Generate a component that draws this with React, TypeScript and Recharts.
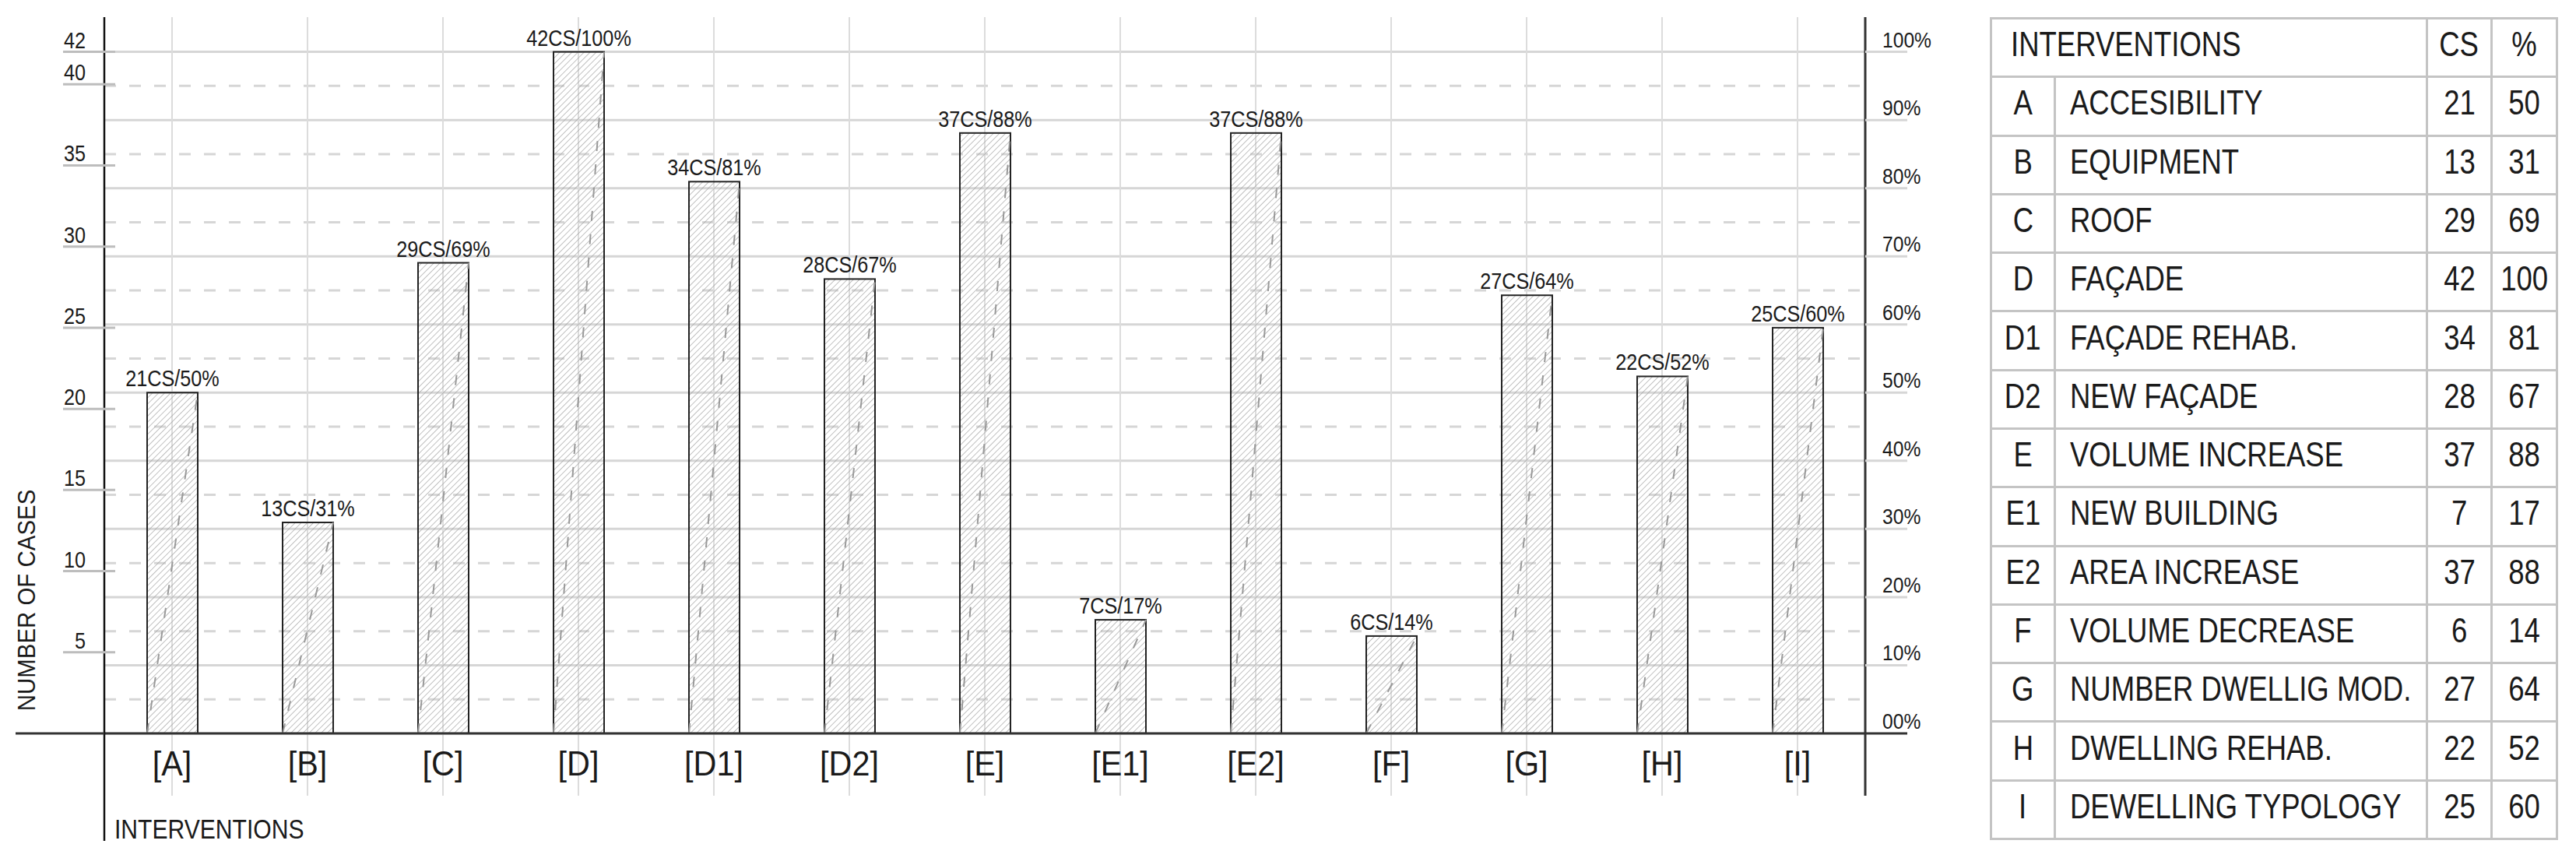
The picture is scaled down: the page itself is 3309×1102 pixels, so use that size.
import React from 'react';
import { ComposedChart, Bar, XAxis, YAxis, CartesianGrid, ReferenceLine, LabelList } from 'recharts';

const CODES = ['A', 'B', 'C', 'D', 'D1', 'D2', 'E', 'E1', 'E2', 'F', 'G', 'H', 'I'];
const NAMES = [
  'ACCESIBILITY',
  'EQUIPMENT',
  'ROOF',
  'FAÇADE',
  'FAÇADE REHAB.',
  'NEW FAÇADE',
  'VOLUME INCREASE',
  'NEW BUILDING',
  'AREA INCREASE',
  'VOLUME DECREASE',
  'NUMBER DWELLIG MOD.',
  'DWELLING REHAB.',
  'DEWELLING TYPOLOGY',
];
const CASES = [21, 13, 29, 42, 34, 28, 37, 7, 37, 6, 27, 22, 25];
const PERCENT = [50, 31, 69, 100, 81, 67, 88, 17, 88, 14, 64, 52, 60];

const CS_TICKS = [0, 5, 10, 15, 20, 25, 30, 35, 40, 42];
const PCT_TICKS = [0, 10, 20, 30, 40, 50, 60, 70, 80, 90, 100];
const PCT_HALF_TICKS = [5, 15, 25, 35, 45, 55, 65, 75, 85, 95];

const TOTAL_CASES = 42;
const CS_DOMAIN = [-3.84, 44.14];
const PCT_DOMAIN = CS_DOMAIN.map((v) => (v / TOTAL_CASES) * 100);

const FONT = "'Liberation Sans', Arial, sans-serif";
const INK = '#1a1a1a';
const GRID = '#d6d6d6';

const CHART_W = 2500;
const CHART_H = 1102;
const PLOT_LEFT = 134;
const PLOT_RIGHT = 2396;
const PLOT_TOP = 22;
const PLOT_BOTTOM = 1022;

const data = CODES.map((code, i) => ({
  code,
  cs: CASES[i],
  pct: PERCENT[i],
  label: `${CASES[i]}CS/${PERCENT[i]}%`,
}));

// narrow technical lettering: regular font squeezed horizontally
const Sq = ({ x, y, anchor, size, sx, rot, children }: any) => (
  <g transform={`translate(${x},${y})${rot ? ` rotate(${rot})` : ''} scale(${sx},1)`}>
    <text x={0} y={0} textAnchor={anchor} fontSize={size} fontFamily={FONT} fill={INK}>
      {children}
    </text>
  </g>
);

const CsTick = (props: any) => {
  const { y, payload } = props;
  if (payload.value === 0) {
    return <line x1={20} x2={PLOT_LEFT} y1={y} y2={y} stroke="#333" strokeWidth={3} />;
  }
  return (
    <g>
      <line x1={PLOT_LEFT - 53} x2={PLOT_LEFT + 14} y1={y} y2={y} stroke="#bdbdbd" strokeWidth={3} />
      <Sq x={PLOT_LEFT - 24} y={y - 5} anchor="end" size={29} sx={0.87}>
        {payload.value}
      </Sq>
    </g>
  );
};

const PctTick = (props: any) => {
  const { y, payload } = props;
  const v = payload.value;
  return (
    <g>
      <line x1={PLOT_RIGHT} x2={PLOT_RIGHT + 54} y1={y} y2={y} stroke={v === 0 ? '#333' : GRID} strokeWidth={3} />
      <Sq x={PLOT_RIGHT + 22} y={y - 6} anchor="start" size={28} sx={0.88}>
        {v === 0 ? '00%' : `${v}%`}
      </Sq>
    </g>
  );
};

const HalfTick = (props: any) => (
  <line x1={PLOT_RIGHT + 2} x2={PLOT_RIGHT + 14} y1={props.y} y2={props.y} stroke={GRID} strokeWidth={3} />
);

const CodeTick = (props: any) => (
  <Sq x={props.x} y={PLOT_BOTTOM - 26} anchor="middle" size={44} sx={0.94}>
    {`[${props.payload.value}]`}
  </Sq>
);

const CasesTitle = () => (
  <Sq x={45} y={771} anchor="middle" size={32} sx={0.92} rot={-90}>
    NUMBER OF CASES
  </Sq>
);

const AxisFoot = () => (
  <g>
    <line x1={PLOT_LEFT} x2={PLOT_LEFT} y1={PLOT_BOTTOM} y2={1080} stroke="#111" strokeWidth={2.5} />
    <Sq x={PLOT_LEFT + 13} y={PLOT_BOTTOM + 55} anchor="start" size={35} sx={0.86}>
      INTERVENTIONS
    </Sq>
  </g>
);

const HatchedBar = (props: any) => {
  const { x, y, width, height } = props;
  if (!height) return null;
  return (
    <g>
      <rect x={x} y={y} width={width} height={height} fill="url(#hatch)" stroke="#222" strokeWidth={2} />
      <line x1={x} y1={y + height} x2={x + width} y2={y} stroke="#999" strokeWidth={2} strokeDasharray="13 17" />
    </g>
  );
};

const BarTag = (props: any) => {
  const { x, y, width, value } = props;
  return (
    <Sq x={x + width / 2} y={y - 8} anchor="middle" size={29} sx={0.87}>
      {value}
    </Sq>
  );
};

const cell: React.CSSProperties = {
  border: '3px solid #c4c4c4',
  padding: 0,
  paddingBottom: 8,
  textAlign: 'center',
  verticalAlign: 'middle',
  lineHeight: '44px',
  whiteSpace: 'nowrap',
};

const Narrow = ({ origin, children }: any) => (
  <span style={{ display: 'inline-block', transform: 'scaleX(0.83)', transformOrigin: origin || 'center' }}>
    {children}
  </span>
);

const CasesTable = () => (
  <table
    style={{
      position: 'absolute',
      left: 2556,
      top: 22,
      width: 727,
      height: 1057,
      borderCollapse: 'collapse',
      tableLayout: 'fixed',
      fontFamily: FONT,
      fontSize: 44,
      color: INK,
    }}
  >
    <colgroup>
      <col style={{ width: 82 }} />
      <col style={{ width: 478 }} />
      <col style={{ width: 83 }} />
      <col style={{ width: 84 }} />
    </colgroup>
    <tbody>
      <tr>
        <td colSpan={2} style={{ ...cell, textAlign: 'left', paddingLeft: 24 }}>
          <Narrow origin="left center">INTERVENTIONS</Narrow>
        </td>
        <td style={cell}>
          <Narrow>CS</Narrow>
        </td>
        <td style={cell}>
          <Narrow>%</Narrow>
        </td>
      </tr>
      {CODES.map((code, i) => (
        <tr key={code}>
          <td style={cell}>
            <Narrow>{code}</Narrow>
          </td>
          <td style={{ ...cell, textAlign: 'left', paddingLeft: 18 }}>
            <Narrow origin="left center">{NAMES[i]}</Narrow>
          </td>
          <td style={cell}>
            <Narrow>{CASES[i]}</Narrow>
          </td>
          <td style={cell}>
            <Narrow>{PERCENT[i]}</Narrow>
          </td>
        </tr>
      ))}
    </tbody>
  </table>
);

export default function App() {
  return (
    <div style={{ position: 'absolute', left: 0, top: 0, width: 3309, height: 1102, background: '#fff' }}>
      <svg width={0} height={0} style={{ position: 'absolute' }}>
        <defs>
          <pattern id="hatch" width={5.5} height={5.5} patternUnits="userSpaceOnUse" patternTransform="rotate(45)">
            <line x1={0} y1={0} x2={0} y2={5.5} stroke="#a0a0a0" strokeWidth={1.3} />
          </pattern>
        </defs>
      </svg>
      <div style={{ position: 'absolute', left: 0, top: 0 }}>
        <ComposedChart
          width={CHART_W}
          height={CHART_H}
          data={data}
          margin={{ top: PLOT_TOP, right: 0, bottom: 0, left: 0 }}
        >
          <CartesianGrid yAxisId="pct" vertical={false} stroke={GRID} strokeWidth={3} syncWithTicks />
          <CartesianGrid
            yAxisId="pct5"
            vertical={false}
            stroke={GRID}
            strokeWidth={3}
            strokeDasharray="15 17"
            syncWithTicks
          />
          <CartesianGrid yAxisId="cs" horizontal={false} stroke="#dcdcdc" strokeWidth={2} syncWithTicks />
          <XAxis
            dataKey="code"
            height={CHART_H - PLOT_BOTTOM}
            axisLine={false}
            tickLine={false}
            interval={0}
            tick={<CodeTick />}
            label={<AxisFoot />}
          />
          <YAxis
            yAxisId="cs"
            width={PLOT_LEFT}
            type="number"
            domain={CS_DOMAIN}
            allowDataOverflow
            ticks={CS_TICKS}
            interval={0}
            axisLine={{ stroke: '#111', strokeWidth: 2.5 }}
            tickLine={false}
            tick={<CsTick />}
            label={<CasesTitle />}
          />
          <YAxis
            yAxisId="pct"
            orientation="right"
            width={CHART_W - PLOT_RIGHT}
            type="number"
            domain={PCT_DOMAIN}
            allowDataOverflow
            ticks={PCT_TICKS}
            interval={0}
            axisLine={{ stroke: '#333', strokeWidth: 3 }}
            tickLine={false}
            tick={<PctTick />}
          />
          <YAxis
            yAxisId="pct5"
            orientation="right"
            width={0}
            type="number"
            domain={PCT_DOMAIN}
            allowDataOverflow
            ticks={PCT_HALF_TICKS}
            interval={0}
            axisLine={false}
            tickLine={false}
            tick={<HalfTick />}
          />
          <Bar dataKey="cs" yAxisId="cs" barSize={65} shape={<HatchedBar />} isAnimationActive={false}>
            <LabelList dataKey="label" content={<BarTag />} />
          </Bar>
          <ReferenceLine yAxisId="cs" y={0} stroke="#333" strokeWidth={3} />
        </ComposedChart>
      </div>
      <CasesTable />
    </div>
  );
}
